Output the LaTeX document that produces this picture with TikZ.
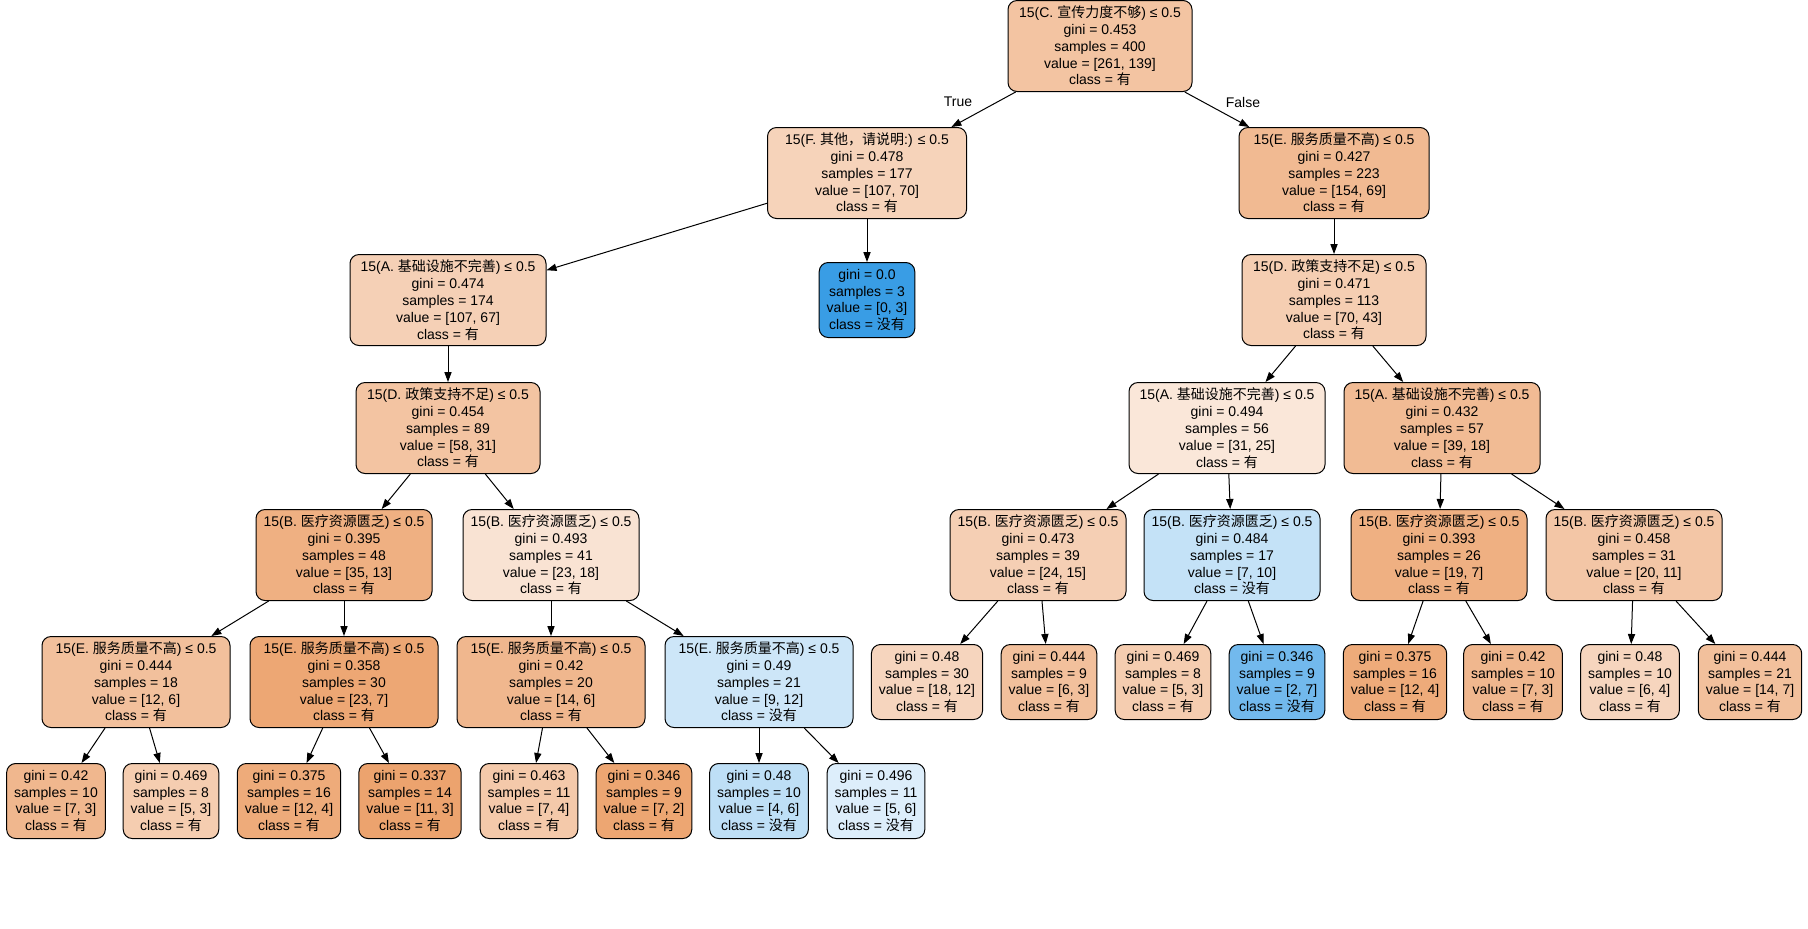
\documentclass[tikz,border=0pt]{standalone}
\usepackage{fontspec}
\setmainfont{Liberation Sans}
\newfontfamily\cjkfont{Noto Sans CJK SC}
\newcommand{\zh}[1]{{\cjkfont #1}}
\usetikzlibrary{arrows.meta}
\definecolor{classyes}{RGB}{229,129,57}
\definecolor{classno}{RGB}{57,157,229}
\tikzstyle{split}=[draw, rounded corners=4.5pt, line width=0.5pt, align=center, inner xsep=3.75pt, inner ysep=1pt, minimum height=45.5pt, font=\fontsize{7}{8.4}\selectfont]
\tikzstyle{leaf}=[split, minimum height=37.5pt, minimum width=47pt]
\tikzstyle{branch}=[line width=0.5pt, -{Triangle[length=5pt, width=3.6pt]}]
\tikzstyle{answer}=[font=\fontsize{7}{8.4}\selectfont]

\begin{document}
\begin{tikzpicture}[x=0.5pt, y=-0.5pt]
  \useasboundingbox (0, 0) rectangle (1808, 928);
  % depth 0 and 1
  \node[split, minimum width=92pt, fill=classyes!47] (root) at (1100, 46) {15(C. \zh{宣传力度不够}) ≤ 0.5\\gini = 0.453\\samples = 400\\value = [261, 139]\\class = \zh{有}};
  \node[split, minimum width=99.5pt, fill=classyes!35] (f1) at (867, 173) {15(F. \zh{其他，请说明}:) ≤ 0.5\\gini = 0.478\\samples = 177\\value = [107, 70]\\class = \zh{有}};
  \node[split, minimum width=95pt, fill=classyes!55] (e1) at (1334, 173) {15(E. \zh{服务质量不高}) ≤ 0.5\\gini = 0.427\\samples = 223\\value = [154, 69]\\class = \zh{有}};
  % depth 2
  \node[split, minimum width=98pt, fill=classyes!37] (a2) at (448, 300) {15(A. \zh{基础设施不完善}) ≤ 0.5\\gini = 0.474\\samples = 174\\value = [107, 67]\\class = \zh{有}};
  \node[leaf, fill=classno] (g2) at (867, 300) {gini = 0.0\\samples = 3\\value = [0, 3]\\class = \zh{没有}};
  \node[split, minimum width=92pt, fill=classyes!39] (d2) at (1334, 300) {15(D. \zh{政策支持不足}) ≤ 0.5\\gini = 0.471\\samples = 113\\value = [70, 43]\\class = \zh{有}};
  % depth 3
  \node[split, minimum width=92pt, fill=classyes!47] (d3) at (448, 428) {15(D. \zh{政策支持不足}) ≤ 0.5\\gini = 0.454\\samples = 89\\value = [58, 31]\\class = \zh{有}};
  \node[split, minimum width=98pt, fill=classyes!19] (a3l) at (1227, 428) {15(A. \zh{基础设施不完善}) ≤ 0.5\\gini = 0.494\\samples = 56\\value = [31, 25]\\class = \zh{有}};
  \node[split, minimum width=98pt, fill=classyes!54] (a3r) at (1442, 428) {15(A. \zh{基础设施不完善}) ≤ 0.5\\gini = 0.432\\samples = 57\\value = [39, 18]\\class = \zh{有}};
  % depth 4
  \node[split, minimum width=88pt, fill=classyes!63] (b4a) at (344, 555) {15(B. \zh{医疗资源匮乏}) ≤ 0.5\\gini = 0.395\\samples = 48\\value = [35, 13]\\class = \zh{有}};
  \node[split, minimum width=88pt, fill=classyes!22] (b4b) at (551, 555) {15(B. \zh{医疗资源匮乏}) ≤ 0.5\\gini = 0.493\\samples = 41\\value = [23, 18]\\class = \zh{有}};
  \node[split, minimum width=88pt, fill=classyes!38] (b4c) at (1038, 555) {15(B. \zh{医疗资源匮乏}) ≤ 0.5\\gini = 0.473\\samples = 39\\value = [24, 15]\\class = \zh{有}};
  \node[split, minimum width=88pt, fill=classno!30] (b4d) at (1232, 555) {15(B. \zh{医疗资源匮乏}) ≤ 0.5\\gini = 0.484\\samples = 17\\value = [7, 10]\\class = \zh{没有}};
  \node[split, minimum width=88pt, fill=classyes!63] (b4e) at (1439, 555) {15(B. \zh{医疗资源匮乏}) ≤ 0.5\\gini = 0.393\\samples = 26\\value = [19, 7]\\class = \zh{有}};
  \node[split, minimum width=88pt, fill=classyes!45] (b4f) at (1634, 555) {15(B. \zh{医疗资源匮乏}) ≤ 0.5\\gini = 0.458\\samples = 31\\value = [20, 11]\\class = \zh{有}};
  % depth 5
  \node[split, minimum width=94pt, fill=classyes!50] (e5a) at (136, 682) {15(E. \zh{服务质量不高}) ≤ 0.5\\gini = 0.444\\samples = 18\\value = [12, 6]\\class = \zh{有}};
  \node[split, minimum width=94pt, fill=classyes!70] (e5b) at (344, 682) {15(E. \zh{服务质量不高}) ≤ 0.5\\gini = 0.358\\samples = 30\\value = [23, 7]\\class = \zh{有}};
  \node[split, minimum width=94pt, fill=classyes!57] (e5c) at (551, 682) {15(E. \zh{服务质量不高}) ≤ 0.5\\gini = 0.42\\samples = 20\\value = [14, 6]\\class = \zh{有}};
  \node[split, minimum width=94pt, fill=classno!25] (e5d) at (759, 682) {15(E. \zh{服务质量不高}) ≤ 0.5\\gini = 0.49\\samples = 21\\value = [9, 12]\\class = \zh{没有}};
  \node[leaf, fill=classyes!33] (l5a) at (927, 682) {gini = 0.48\\samples = 30\\value = [18, 12]\\class = \zh{有}};
  \node[leaf, fill=classyes!50] (l5b) at (1049, 682) {gini = 0.444\\samples = 9\\value = [6, 3]\\class = \zh{有}};
  \node[leaf, fill=classyes!40] (l5c) at (1163, 682) {gini = 0.469\\samples = 8\\value = [5, 3]\\class = \zh{有}};
  \node[leaf, fill=classno!71] (l5d) at (1277, 682) {gini = 0.346\\samples = 9\\value = [2, 7]\\class = \zh{没有}};
  \node[leaf, fill=classyes!67] (l5e) at (1395, 682) {gini = 0.375\\samples = 16\\value = [12, 4]\\class = \zh{有}};
  \node[leaf, fill=classyes!57] (l5f) at (1513, 682) {gini = 0.42\\samples = 10\\value = [7, 3]\\class = \zh{有}};
  \node[leaf, fill=classyes!33] (l5g) at (1630, 682) {gini = 0.48\\samples = 10\\value = [6, 4]\\class = \zh{有}};
  \node[leaf, fill=classyes!50] (l5h) at (1750, 682) {gini = 0.444\\samples = 21\\value = [14, 7]\\class = \zh{有}};
  % depth 6
  \node[leaf, fill=classyes!57] (l6a) at (56, 801) {gini = 0.42\\samples = 10\\value = [7, 3]\\class = \zh{有}};
  \node[leaf, fill=classyes!40] (l6b) at (171, 801) {gini = 0.469\\samples = 8\\value = [5, 3]\\class = \zh{有}};
  \node[leaf, fill=classyes!67] (l6c) at (289, 801) {gini = 0.375\\samples = 16\\value = [12, 4]\\class = \zh{有}};
  \node[leaf, fill=classyes!73] (l6d) at (410, 801) {gini = 0.337\\samples = 14\\value = [11, 3]\\class = \zh{有}};
  \node[leaf, fill=classyes!43] (l6e) at (529, 801) {gini = 0.463\\samples = 11\\value = [7, 4]\\class = \zh{有}};
  \node[leaf, fill=classyes!71] (l6f) at (644, 801) {gini = 0.346\\samples = 9\\value = [7, 2]\\class = \zh{有}};
  \node[leaf, fill=classno!33] (l6g) at (759, 801) {gini = 0.48\\samples = 10\\value = [4, 6]\\class = \zh{没有}};
  \node[leaf, fill=classno!17] (l6h) at (876, 801) {gini = 0.496\\samples = 11\\value = [5, 6]\\class = \zh{没有}};
  % edges
  \node[answer] (yes) at (958, 102) {True};
  \node[answer] (no) at (1243, 102) {False};
  \draw[branch] (root) -- (f1);
  \draw[branch] (root) -- (e1);
  \draw[branch] (f1) -- (a2);
  \draw[branch] (f1) -- (g2);
  \draw[branch] (e1) -- (d2);
  \draw[branch] (a2) -- (d3);
  \draw[branch] (d2) -- (a3l);
  \draw[branch] (d2) -- (a3r);
  \draw[branch] (d3) -- (b4a);
  \draw[branch] (d3) -- (b4b);
  \draw[branch] (a3l) -- (b4c);
  \draw[branch] (a3l) -- (b4d);
  \draw[branch] (a3r) -- (b4e);
  \draw[branch] (a3r) -- (b4f);
  \draw[branch] (b4a) -- (e5a);
  \draw[branch] (b4a) -- (e5b);
  \draw[branch] (b4b) -- (e5c);
  \draw[branch] (b4b) -- (e5d);
  \draw[branch] (b4c) -- (l5a);
  \draw[branch] (b4c) -- (l5b);
  \draw[branch] (b4d) -- (l5c);
  \draw[branch] (b4d) -- (l5d);
  \draw[branch] (b4e) -- (l5e);
  \draw[branch] (b4e) -- (l5f);
  \draw[branch] (b4f) -- (l5g);
  \draw[branch] (b4f) -- (l5h);
  \draw[branch] (e5a) -- (l6a);
  \draw[branch] (e5a) -- (l6b);
  \draw[branch] (e5b) -- (l6c);
  \draw[branch] (e5b) -- (l6d);
  \draw[branch] (e5c) -- (l6e);
  \draw[branch] (e5c) -- (l6f);
  \draw[branch] (e5d) -- (l6g);
  \draw[branch] (e5d) -- (l6h);
\end{tikzpicture}
\end{document}
